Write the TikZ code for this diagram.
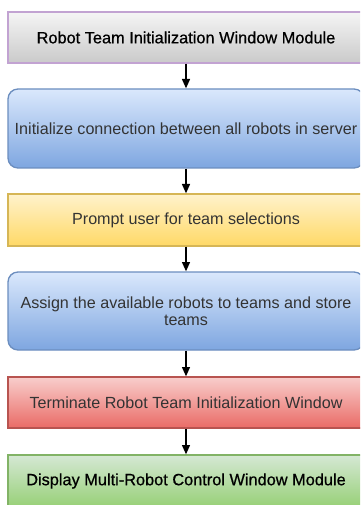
\documentclass[tikz,border=0pt]{standalone}
\usepackage{fontspec}
\setmainfont{Liberation Sans}
\newfontfamily\strongfont[FakeBold=0.7]{Liberation Sans}
\usetikzlibrary{arrows.meta}

\definecolor{greyTop}{HTML}{F5F5F5}
\definecolor{greyBot}{HTML}{CACACA}
\definecolor{greyLine}{HTML}{C2A3D2}
\definecolor{blueTop}{HTML}{DAE8FC}
\definecolor{blueBot}{HTML}{7EA6E0}
\definecolor{blueLine}{HTML}{6C8EBF}
\definecolor{yelTop}{HTML}{FFF2CC}
\definecolor{yelBot}{HTML}{FFD966}
\definecolor{yelLine}{HTML}{D6B656}
\definecolor{redTop}{HTML}{F8CECC}
\definecolor{redBot}{HTML}{EA6B66}
\definecolor{redLine}{HTML}{B85450}
\definecolor{grnTop}{HTML}{D5E8D4}
\definecolor{grnBot}{HTML}{97D077}
\definecolor{grnLine}{HTML}{82B366}
\definecolor{bodyText}{HTML}{333333}

\tikzset{
  box/.style n args={3}{
    draw=#3, line width=1pt, top color=#1, bottom color=#2,
    minimum width=267pt, inner sep=0pt, align=center,
    font=\fontsize{12.1}{12.75}\selectfont, text=bodyText
  },
  roundbox/.style={rounded corners=7.5pt},
  headtext/.style={text=black, font=\fontsize{12.25}{12.75}\selectfont\strongfont},
  flow/.style={draw=black, line width=1pt, -{Triangle[length=7pt,width=6pt]}}
}

\begin{document}
\begin{tikzpicture}[x=0.75pt, y=-0.75pt]
  \useasboundingbox (0,0) rectangle (360,505);
  \clip (0,0) rectangle (360,505);

  \node[box={greyTop}{greyBot}{greyLine}, headtext, minimum height=38.25pt]
    (init) at (186,37.5) {Robot Team Initialization Window Module};
  \node[box={blueTop}{blueBot}{blueLine}, roundbox, minimum height=59.25pt]
    (connect) at (186,128.5) {Initialize connection between all robots in server};
  \node[box={yelTop}{yelBot}{yelLine}, minimum height=39pt]
    (prompt) at (186,220) {Prompt user for team selections};
  \node[box={blueTop}{blueBot}{blueLine}, roundbox, minimum height=58.5pt]
    (assign) at (186,311) {Assign the available robots to teams and store\\teams};
  \node[box={redTop}{redBot}{redLine}, minimum height=38.25pt]
    (terminate) at (186,402.5) {Terminate Robot Team Initialization Window};
  \node[box={grnTop}{grnBot}{grnLine}, headtext, minimum height=39pt]
    (display) at (186,481) {Display Multi-Robot Control Window Module};

  \draw[flow] (init) -- (connect);
  \draw[flow] (connect) -- (prompt);
  \draw[flow] (prompt) -- (assign);
  \draw[flow] (assign) -- (terminate);
  \draw[flow] (terminate) -- (display);
\end{tikzpicture}
\end{document}
